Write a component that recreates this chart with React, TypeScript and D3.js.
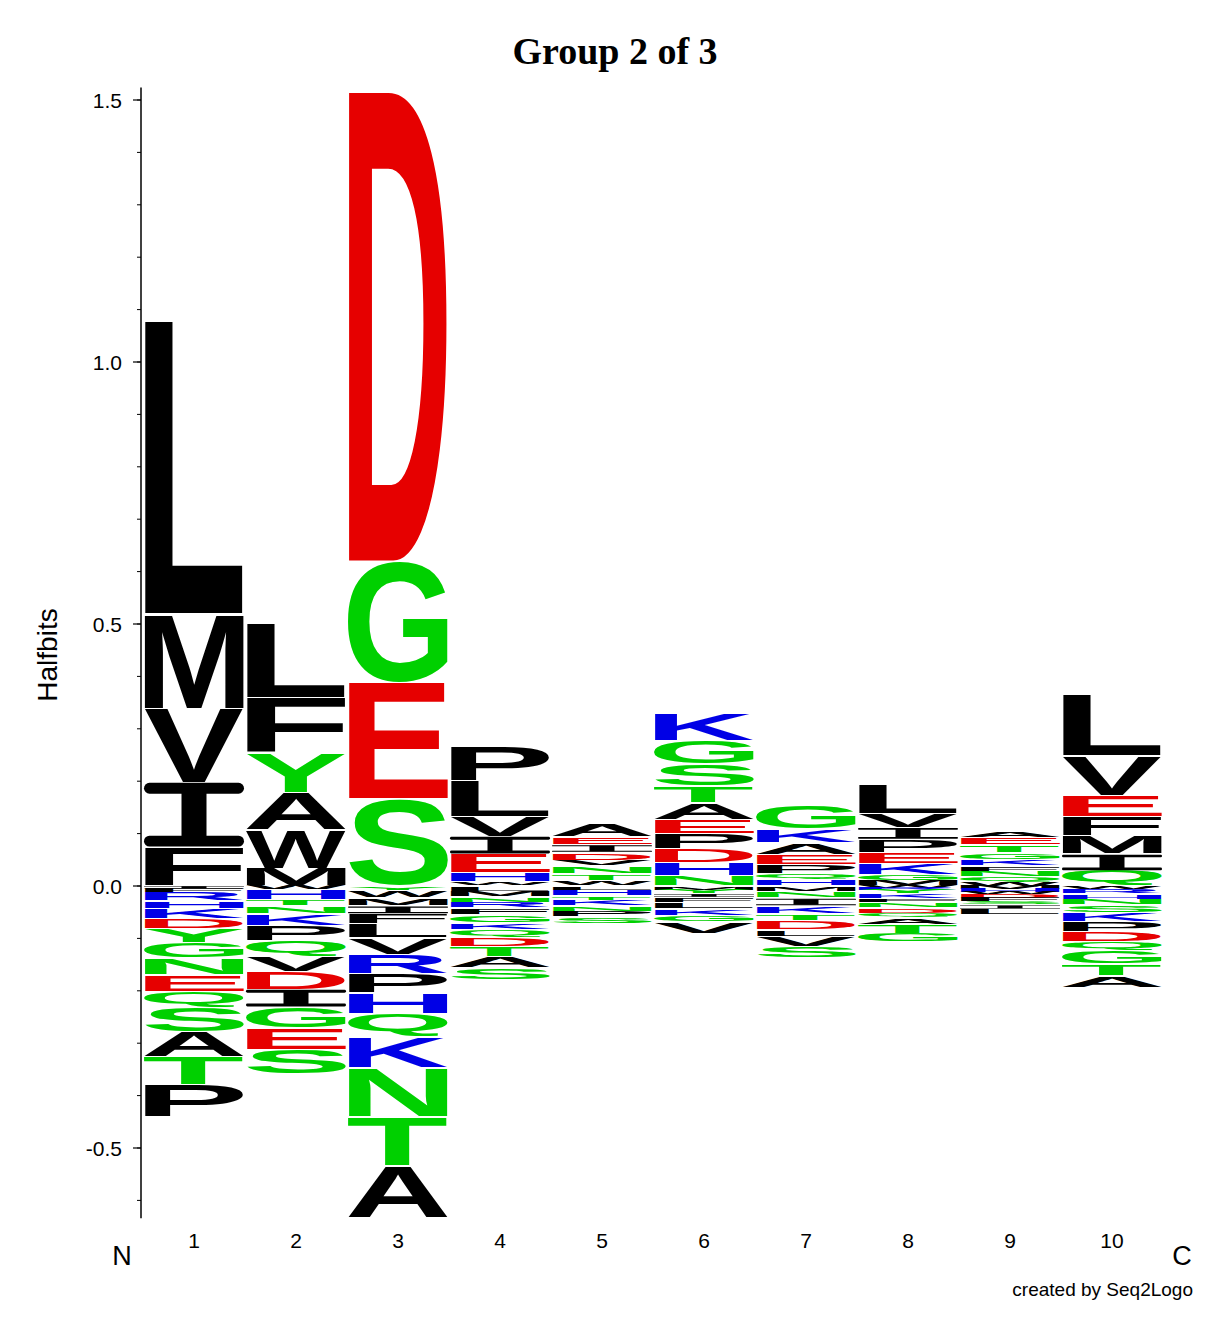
import React, { useMemo } from "react";
import * as d3 from "d3";

type Entry = [string, number];

// Column positions and axis ticks
const positions = [1, 2, 3, 4, 5, 6, 7, 8, 9, 10];
const majorTicks = [-0.5, 0.0, 0.5, 1.0, 1.5];
const minorTicks = d3.range(-6, 16).map((i) => i / 10);

// Positive stacks: from the zero line upward (halfbits)
const pos1: Entry[] = [["F", 0.074], ["I", 0.124], ["V", 0.141], ["M", 0.181], ["L", 0.559]];
const pos2: Entry[] = [["M", 0.034], ["W", 0.073], ["A", 0.071], ["Y", 0.076], ["F", 0.105], ["L", 0.141]];
const pos3: Entry[] = [["S", 0.166], ["E", 0.223], ["G", 0.231], ["D", 0.897]];
const pos4: Entry[] = [["W", 0.008], ["H", 0.017], ["E", 0.036], ["I", 0.034], ["V", 0.038], ["L", 0.067], ["P", 0.067]];
const pos5: Entry[] = [["W", 0.010], ["T", 0.013], ["N", 0.015], ["V", 0.011], ["D", 0.015], ["I", 0.015], ["E", 0.015], ["A", 0.025]];
const pos6: Entry[] = [["N", 0.019], ["H", 0.025], ["D", 0.027], ["P", 0.029], ["E", 0.027], ["A", 0.032], ["T", 0.032], ["S", 0.042], ["G", 0.044], ["K", 0.052]];
const pos7: Entry[] = [["H", 0.011], ["Q", 0.013], ["P", 0.017], ["E", 0.019], ["A", 0.023], ["K", 0.025], ["G", 0.046]];
const pos8: Entry[] = [["M", 0.011], ["G", 0.011], ["K", 0.021], ["E", 0.021], ["P", 0.025], ["I", 0.023], ["V", 0.027], ["L", 0.055]];
const pos9: Entry[] = [["W", 0.006], ["Q", 0.011], ["N", 0.011], ["F", 0.010], ["K", 0.013], ["G", 0.013], ["T", 0.015], ["E", 0.013], ["A", 0.013]];
const pos10: Entry[] = [["Q", 0.029], ["I", 0.032], ["M", 0.034], ["F", 0.038], ["E", 0.040], ["V", 0.076], ["L", 0.118]];

// Negative stacks: from the zero line downward
const neg1: Entry[] = [["I", 0.005], ["F", 0.006], ["R", 0.017], ["H", 0.015], ["K", 0.019], ["D", 0.019], ["Y", 0.027], ["G", 0.029], ["N", 0.032], ["E", 0.032], ["Q", 0.031], ["S", 0.046], ["A", 0.048], ["T", 0.053], ["P", 0.061]];
const neg2: Entry[] = [["W", 0.006], ["H", 0.019], ["T", 0.013], ["N", 0.015], ["K", 0.023], ["P", 0.029], ["Q", 0.029], ["V", 0.029], ["D", 0.034], ["I", 0.034], ["G", 0.040], ["E", 0.042], ["S", 0.046]];
const neg3: Entry[] = [["Y", 0.008], ["W", 0.015], ["M", 0.015], ["I", 0.015], ["F", 0.019], ["L", 0.027], ["V", 0.032], ["R", 0.036], ["P", 0.036], ["H", 0.040], ["Q", 0.044], ["K", 0.059], ["N", 0.094], ["T", 0.094], ["A", 0.099]];
const neg4: Entry[] = [["L", 0.010], ["M", 0.011], ["N", 0.010], ["R", 0.011], ["F", 0.013], ["G", 0.015], ["K", 0.013], ["Q", 0.015], ["D", 0.017], ["T", 0.019], ["A", 0.021], ["S", 0.023]];
const neg5: Entry[] = [["L", 0.008], ["H", 0.011], ["T", 0.008], ["K", 0.011], ["N", 0.010], ["P", 0.011], ["S", 0.013]];
const neg6: Entry[] = [["M", 0.008], ["Y", 0.006], ["I", 0.008], ["F", 0.010], ["L", 0.011], ["K", 0.013], ["G", 0.013], ["V", 0.021]];
const neg7: Entry[] = [["M", 0.010], ["N", 0.013], ["I", 0.015], ["K", 0.015], ["T", 0.013], ["D", 0.017], ["L", 0.013], ["V", 0.019], ["S", 0.021]];
const neg8: Entry[] = [["W", 0.004], ["R", 0.004], ["Y", 0.006], ["K", 0.010], ["F", 0.008], ["N", 0.010], ["D", 0.010], ["Q", 0.008], ["A", 0.013], ["T", 0.017], ["G", 0.017]];
const neg9: Entry[] = [["M", 0.006], ["H", 0.006], ["W", 0.004], ["D", 0.006], ["F", 0.006], ["S", 0.008], ["I", 0.008], ["L", 0.011]];
const neg10: Entry[] = [["W", 0.005], ["R", 0.010], ["H", 0.010], ["N", 0.011], ["S", 0.015], ["K", 0.017], ["P", 0.019], ["D", 0.019], ["Q", 0.017], ["G", 0.025], ["T", 0.023], ["A", 0.023]];

const positiveStacks = [pos1, pos2, pos3, pos4, pos5, pos6, pos7, pos8, pos9, pos10];
const negativeStacks = [neg1, neg2, neg3, neg4, neg5, neg6, neg7, neg8, neg9, neg10];

const GREEN = "#00d000";
const RED = "#e60000";
const BLUE = "#0000e6";
const BLACK = "#000000";

function colorOf(aa: string): string {
  if ("GSTYCQN".includes(aa)) return GREEN;
  if ("KRH".includes(aa)) return BLUE;
  if ("DE".includes(aa)) return RED;
  return BLACK;
}

const W = 1231;
const H = 1333;
const LETTER_FONT = "'Liberation Sans', Arial, Helvetica, sans-serif";
const LABEL_FONT = "'Liberation Sans', Arial, Helvetica, sans-serif";

type Metric = { l: number; r: number; a: number; d: number };

function Glyph({ ch, x, y, w, h, m }: { ch: string; x: number; y: number; w: number; h: number; m: Record<string, Metric> }) {
  const fill = colorOf(ch);
  if (h <= 0) return null;
  if (ch === "I") {
    const bar = h * 0.17;
    const stemW = w * 0.25;
    const r = Math.min(bar / 2, w / 2);
    return (
      <g fill={fill}>
        <rect x={x} y={y} width={w} height={bar} rx={r} ry={r} />
        <rect x={x + (w - stemW) / 2} y={y + bar * 0.5} width={stemW} height={h - bar} />
        <rect x={x} y={y + h - bar} width={w} height={bar} rx={r} ry={r} />
      </g>
    );
  }
  const mt = m[ch];
  const gw = mt.l + mt.r;
  const gh = mt.a + mt.d;
  const sx = w / gw;
  const sy = h / gh;
  return (
    <text
      x={0}
      y={0}
      fontFamily={LETTER_FONT}
      fontWeight="bold"
      fontSize={100}
      fill={fill}
      transform={`translate(${x},${y}) scale(${sx},${sy}) translate(${mt.l},${mt.a})`}
    >
      {ch}
    </text>
  );
}

const fmtTick = (t: number) => d3.format(".1f")(t).replace("\u2212", "-");

export default function App() {
  const metrics = useMemo(() => {
    const canvas = document.createElement("canvas");
    const ctx = canvas.getContext("2d")!;
    ctx.font = `bold 100px ${LETTER_FONT}`;
    const res: Record<string, Metric> = {};
    for (const ch of "ACDEFGHIKLMNPQRSTVWY") {
      const t = ctx.measureText(ch);
      res[ch] = {
        l: t.actualBoundingBoxLeft,
        r: t.actualBoundingBoxRight,
        a: t.actualBoundingBoxAscent,
        d: t.actualBoundingBoxDescent,
      };
    }
    return res;
  }, []);

  const y = d3.scaleLinear().domain([-0.5, 1.5]).range([1148, 100]);
  const x = d3.scaleBand<number>().domain(positions).range([143, 1163]).padding(0);
  const axisX = 141;

  const letters: React.ReactNode[] = [];
  positions.forEach((p, ci) => {
    const x0 = x(p)! + 1;
    const bw = x.bandwidth() - 2;
    let cum = 0;
    positiveStacks[ci].forEach(([aa, v], i) => {
      const top = y(cum + v);
      const bot = y(cum);
      cum += v;
      const hh = bot - top;
      const inset = hh > 4 ? 0.6 : 0;
      letters.push(
        <Glyph key={`p${ci}-${i}`} ch={aa} x={x0} y={top + inset} w={bw} h={hh - 2 * inset} m={metrics} />
      );
    });
    cum = 0;
    negativeStacks[ci].forEach(([aa, v], i) => {
      const top = y(cum);
      const bot = y(cum - v);
      cum -= v;
      const hh = bot - top;
      const inset = hh > 4 ? 0.6 : 0;
      letters.push(
        <Glyph key={`n${ci}-${i}`} ch={aa} x={x0} y={top + inset} w={bw} h={hh - 2 * inset} m={metrics} />
      );
    });
  });

  return (
    <svg
      width={W}
      height={H}
      viewBox={`0 0 ${W} ${H}`}
      style={{ position: "absolute", left: 0, top: 0, background: "#fff" }}
    >
      <rect x={0} y={0} width={W} height={H} fill="#fff" />
      <text
        x={615}
        y={64}
        textAnchor="middle"
        fontFamily="'Liberation Serif', 'Times New Roman', serif"
        fontWeight="bold"
        fontSize={38}
      >
        Group 2 of 3
      </text>

      {letters}

      {/* y axis */}
      <line x1={axisX} x2={axisX} y1={y(1.524)} y2={y(-0.634)} stroke="#000" strokeWidth={1.5} />
      {minorTicks.map((t) => (
        <line key={`mi${t}`} x1={axisX - 4} x2={axisX} y1={y(t)} y2={y(t)} stroke="#000" strokeWidth={1} />
      ))}
      {majorTicks.map((t) => (
        <g key={`ma${t}`}>
          <line x1={axisX - 8} x2={axisX} y1={y(t)} y2={y(t)} stroke="#000" strokeWidth={1.2} />
          <text
            x={122}
            y={y(t)}
            dy="0.36em"
            textAnchor="end"
            fontFamily={LABEL_FONT}
            fontSize={21}
          >
            {fmtTick(t)}
          </text>
        </g>
      ))}
      <text
        transform={`translate(57,655) rotate(-90)`}
        textAnchor="middle"
        fontFamily={LABEL_FONT}
        fontSize={28}
      >
        Halfbits
      </text>

      {/* x labels */}
      {positions.map((p) => (
        <text
          key={`xl${p}`}
          x={x(p)! + x.bandwidth() / 2}
          y={1248}
          textAnchor="middle"
          fontFamily={LABEL_FONT}
          fontSize={21}
        >
          {p}
        </text>
      ))}
      <text x={122} y={1265} textAnchor="middle" fontFamily={LABEL_FONT} fontSize={27}>
        N
      </text>
      <text x={1182} y={1265} textAnchor="middle" fontFamily={LABEL_FONT} fontSize={27}>
        C
      </text>
      <text x={1193} y={1296} textAnchor="end" fontFamily={LABEL_FONT} fontSize={19}>
        created by Seq2Logo
      </text>
    </svg>
  );
}
